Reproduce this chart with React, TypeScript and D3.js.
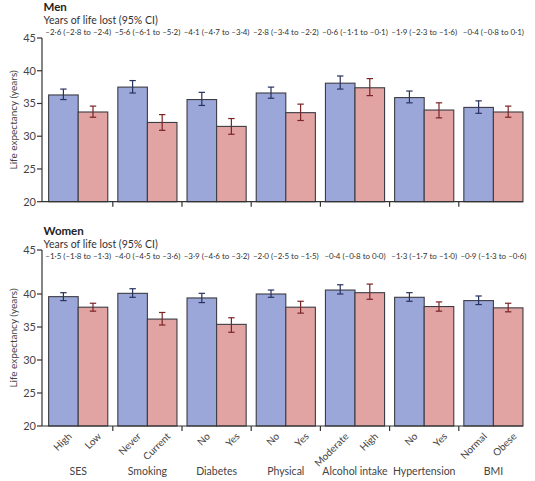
import React from "react";
import * as d3 from "d3";

const groups = ["SES", "Smoking", "Diabetes", "Physical", "Alcohol intake", "Hypertension", "BMI"];
const refLevels = ["High", "Never", "No", "No", "Moderate", "No", "Normal"];
const cmpLevels = ["Low", "Current", "Yes", "Yes", "High", "Yes", "Obese"];
const yTicks = [20, 25, 30, 35, 40, 45];

const menCI = [
  "–2·6 (–2·8 to –2·4)", "–5·6 (–6·1 to –5·2)", "–4·1 (–4·7 to –3·4)", "–2·8 (–3·4 to –2·2)",
  "–0·6 (–1·1 to –0·1)", "–1·9 (–2·3 to –1·6)", "–0·4 (–0·8 to 0·1)",
];
const menRef = [36.3, 37.5, 35.6, 36.6, 38.1, 35.9, 34.4];
const menRefLo = [35.6, 36.6, 34.7, 35.8, 37.2, 35.1, 33.5];
const menRefHi = [37.2, 38.5, 36.7, 37.5, 39.2, 36.9, 35.4];
const menCmp = [33.7, 32.1, 31.5, 33.6, 37.4, 34.0, 33.7];
const menCmpLo = [32.9, 30.9, 30.3, 32.4, 36.2, 32.8, 32.9];
const menCmpHi = [34.6, 33.3, 32.7, 34.9, 38.8, 35.1, 34.6];

const womenCI = [
  "–1·5 (–1·8 to –1·3)", "–4·0 (–4·5 to –3·6)", "–3·9 (–4·6 to –3·2)", "–2·0 (–2·5 to –1·5)",
  "–0·4 (–0·8 to 0·0)", "–1·3 (–1·7 to –1·0)", "–0·9 (–1·3 to –0·6)",
];
const womenRef = [39.6, 40.1, 39.4, 40.0, 40.6, 39.5, 39.0];
const womenRefLo = [39.0, 39.5, 38.7, 39.5, 40.0, 38.9, 38.4];
const womenRefHi = [40.2, 40.8, 40.1, 40.6, 41.4, 40.2, 39.7];
const womenCmp = [38.0, 36.2, 35.4, 38.0, 40.2, 38.1, 37.9];
const womenCmpLo = [37.4, 35.3, 34.2, 37.1, 39.2, 37.4, 37.3];
const womenCmpHi = [38.6, 37.2, 36.4, 38.9, 41.5, 38.8, 38.6];

const FONT = "Lato, 'Noto Sans', sans-serif";
const BLUE = "#9ba7d8";
const PINK = "#e2a3a3";
const BLUE_ERR = "#27325e";
const PINK_ERR = "#7a2424";
const STROKE = "#3c3c44";

const AXIS_X = 42;
const x0 = d3.scaleBand<string>().domain(groups).range([43.6, 528]).paddingInner(0).paddingOuter(0);
const x1 = d3.scaleBand<string>().domain(["ref", "cmp"]).range([0, x0.bandwidth()]).paddingOuter(0.17).paddingInner(0);

type PanelProps = {
  title: string;
  ci: string[];
  ref: number[]; refLo: number[]; refHi: number[];
  cmp: number[]; cmpLo: number[]; cmpHi: number[];
  y: d3.ScaleLinear<number, number>;
  top: number;
  showX: boolean;
};

function Panel(p: PanelProps) {
  const { y } = p;
  const base = y(20);
  const bw = x1.bandwidth();
  const axisTop = y(45);
  const bar = (g: string, key: string, v: number, lo: number, hi: number, fill: string, errC: string) => {
    const xl = (x0(g) as number) + (x1(key) as number);
    const cx = xl + bw / 2;
    return (
      <g key={g + key}>
        <rect x={xl} y={y(v)} width={bw} height={base - y(v)} fill={fill} stroke={STROKE} strokeWidth={1.1} />
        <line x1={cx} x2={cx} y1={y(lo)} y2={y(hi)} stroke={errC} strokeWidth={1.2} />
        <line x1={cx - 3.2} x2={cx + 3.2} y1={y(lo)} y2={y(lo)} stroke={errC} strokeWidth={1.2} />
        <line x1={cx - 3.2} x2={cx + 3.2} y1={y(hi)} y2={y(hi)} stroke={errC} strokeWidth={1.2} />
      </g>
    );
  };
  return (
    <g fontFamily={FONT}>
      <text x={43.5} y={p.top} fontSize={11.5} fontWeight="bold" fill="#222">{p.title}</text>
      <text x={43.5} y={p.top + 13} fontSize={10.5} fill="#333">Years of life lost (95% CI)</text>
      {groups.map((g, i) => (
        <text key={g} x={(x0(g) as number) + x0.bandwidth() / 2} y={p.top + 24} fontSize={8} fill="#333" textAnchor="middle">
          {p.ci[i]}
        </text>
      ))}
      {groups.map((g, i) => bar(g, "ref", p.ref[i], p.refLo[i], p.refHi[i], BLUE, BLUE_ERR))}
      {groups.map((g, i) => bar(g, "cmp", p.cmp[i], p.cmpLo[i], p.cmpHi[i], PINK, PINK_ERR))}
      {/* y axis */}
      <line x1={AXIS_X} x2={AXIS_X} y1={axisTop} y2={base} stroke="#333" strokeWidth={1.2} />
      {yTicks.map((t) => (
        <g key={t}>
          <line x1={AXIS_X - 5} x2={AXIS_X} y1={y(t)} y2={y(t)} stroke="#333" strokeWidth={1.2} />
          <text x={AXIS_X - 6} y={y(t)} dy="0.36em" fontSize={11} fill="#444" textAnchor="end">{t}</text>
        </g>
      ))}
      <text
        transform={`translate(13.5,${(axisTop + base) / 2}) rotate(-90)`}
        fontSize={10}
        fill="#444"
        textAnchor="middle"
        dy="0.35em"
      >
        Life expectancy (years)
      </text>
      {/* x axis */}
      <line x1={AXIS_X} x2={523} y1={base} y2={base} stroke="#333" strokeWidth={1.2} />
      {groups.slice(1).map((g) => (
        <line key={g} x1={x0(g) as number} x2={x0(g) as number} y1={base} y2={base + 5} stroke="#333" strokeWidth={1.2} />
      ))}
      {p.showX &&
        groups.map((g, i) => {
          const gx = x0(g) as number;
          const cr = gx + (x1("ref") as number) + bw / 2;
          const cc = gx + (x1("cmp") as number) + bw / 2;
          return (
            <g key={g} fontSize={10} fill="#444">
              <text transform={`translate(${cr + 4},${base + 6}) rotate(-45)`} textAnchor="end" dy="0.7em">{refLevels[i]}</text>
              <text transform={`translate(${cc + 4},${base + 6}) rotate(-45)`} textAnchor="end" dy="0.7em">{cmpLevels[i]}</text>
              <text x={gx + x0.bandwidth() / 2} y={base + 49} textAnchor="middle" fontSize={10.5}>{g}</text>
            </g>
          );
        })}
    </g>
  );
}

export default function App() {
  const yMen = d3.scaleLinear().domain([20, 45]).range([201.7, 38]);
  const yWomen = d3.scaleLinear().domain([20, 42, 45]).range([426, 280.8, 250]);
  return (
    <svg width={535} height={481} style={{ position: "absolute", left: 0, top: 0, background: "#fff" }}>
      <rect width={535} height={481} fill="#fff" />
      <Panel title="Men" ci={menCI} ref={menRef} refLo={menRefLo} refHi={menRefHi} cmp={menCmp} cmpLo={menCmpLo} cmpHi={menCmpHi} y={yMen} top={11} showX={false} />
      <Panel title="Women" ci={womenCI} ref={womenRef} refLo={womenRefLo} refHi={womenRefHi} cmp={womenCmp} cmpLo={womenCmpLo} cmpHi={womenCmpHi} y={yWomen} top={235} showX={true} />
    </svg>
  );
}
